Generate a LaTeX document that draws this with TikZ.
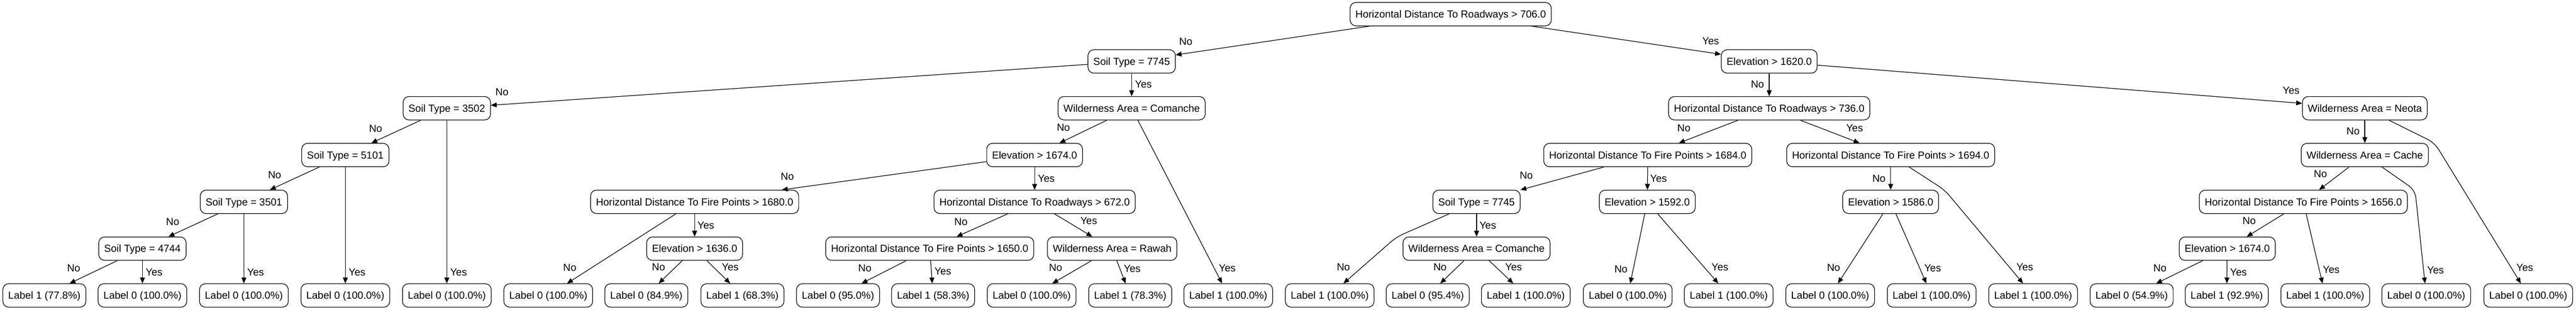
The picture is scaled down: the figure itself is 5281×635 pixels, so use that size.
\documentclass[tikz,border=0pt]{standalone}
\usepackage{fontspec}
\setmainfont{Liberation Sans}
\usetikzlibrary{arrows.meta}
\tikzset{
	split/.style={draw, rounded corners=12pt, line width=1.3pt, minimum height=48pt, inner xsep=11pt, text height=15pt, text depth=0pt},
	leaf/.style={split},
	link/.style={line width=1.3pt, -{Triangle[length=12pt, width=10pt]}},
	bent/.style={link, rounded corners=15pt},
	lbl/.style={inner sep=0pt, text height=15pt, text depth=0pt}
}

\begin{document}
\begin{tikzpicture}[x=1pt, y=-1pt, font=\fontsize{21pt}{25pt}\selectfont]
	\useasboundingbox (0, 0) rectangle (5281, 635);
	% splits
	\node[split] (root) at (2974, 29) {Horizontal Distance To Roadways > 706.0};
	\node[split] (st7745) at (2320, 126) {Soil Type = 7745};
	\node[split] (elev1620) at (3627, 126) {Elevation > 1620.0};
	\node[split] (st3502) at (916, 222) {Soil Type = 3502};
	\node[split] (wacom) at (2320, 222) {Wilderness Area = Comanche};
	\node[split] (hdr736) at (3627, 222) {Horizontal Distance To Roadways > 736.0};
	\node[split] (waneota) at (4848, 222) {Wilderness Area = Neota};
	\node[split] (st5101) at (708, 318) {Soil Type = 5101};
	\node[split] (elev1674) at (2121, 318) {Elevation > 1674.0};
	\node[split] (hdfp1684) at (3378, 318) {Horizontal Distance To Fire Points > 1684.0};
	\node[split] (hdfp1694) at (3876, 318) {Horizontal Distance To Fire Points > 1694.0};
	\node[split] (wacache) at (4848, 318) {Wilderness Area = Cache};
	\node[split] (st3501) at (500, 414) {Soil Type = 3501};
	\node[split] (hdfp1680) at (1424, 414) {Horizontal Distance To Fire Points > 1680.0};
	\node[split] (hdr672) at (2121, 414) {Horizontal Distance To Roadways > 672.0};
	\node[split] (st7745b) at (3027, 414) {Soil Type = 7745};
	\node[split] (elev1592) at (3377, 414) {Elevation > 1592.0};
	\node[split] (elev1586) at (3876, 414) {Elevation > 1586.0};
	\node[split] (hdfp1656) at (4722, 414) {Horizontal Distance To Fire Points > 1656.0};
	\node[split] (st4744) at (292, 510) {Soil Type = 4744};
	\node[split] (elev1636) at (1424, 510) {Elevation > 1636.0};
	\node[split] (hdfp1650) at (1906, 510) {Horizontal Distance To Fire Points > 1650.0};
	\node[split] (warawah) at (2280, 510) {Wilderness Area = Rawah};
	\node[split] (wacomb) at (3027, 510) {Wilderness Area = Comanche};
	\node[split] (elev1674b) at (4566, 510) {Elevation > 1674.0};
	% leaves
	\node[leaf] (l1) at (91, 606) {Label 1 (77.8\%)};
	\node[leaf] (l2) at (292, 606) {Label 0 (100.0\%)};
	\node[leaf] (l3) at (500, 606) {Label 0 (100.0\%)};
	\node[leaf] (l4) at (708, 606) {Label 0 (100.0\%)};
	\node[leaf] (l5) at (916, 606) {Label 0 (100.0\%)};
	\node[leaf] (l6) at (1124, 606) {Label 0 (100.0\%)};
	\node[leaf] (l7) at (1325, 606) {Label 0 (84.9\%)};
	\node[leaf] (l8) at (1522, 606) {Label 1 (68.3\%)};
	\node[leaf] (l9) at (1718, 606) {Label 0 (95.0\%)};
	\node[leaf] (l10) at (1913, 606) {Label 1 (58.3\%)};
	\node[leaf] (l11) at (2115, 606) {Label 0 (100.0\%)};
	\node[leaf] (l12) at (2317, 606) {Label 1 (78.3\%)};
	\node[leaf] (l13) at (2518, 606) {Label 1 (100.0\%)};
	\node[leaf] (l14) at (2726, 606) {Label 1 (100.0\%)};
	\node[leaf] (l15) at (2927, 606) {Label 0 (95.4\%)};
	\node[leaf] (l16) at (3128, 606) {Label 1 (100.0\%)};
	\node[leaf] (l17) at (3337, 606) {Label 0 (100.0\%)};
	\node[leaf] (l18) at (3544, 606) {Label 1 (100.0\%)};
	\node[leaf] (l19) at (3752, 606) {Label 0 (100.0\%)};
	\node[leaf] (l20) at (3960, 606) {Label 1 (100.0\%)};
	\node[leaf] (l21) at (4168, 606) {Label 1 (100.0\%)};
	\node[leaf] (l22) at (4370, 606) {Label 0 (54.9\%)};
	\node[leaf] (l23) at (4565, 606) {Label 1 (92.9\%)};
	\node[leaf] (l24) at (4767, 606) {Label 1 (100.0\%)};
	\node[leaf] (l25) at (4974, 606) {Label 0 (100.0\%)};
	\node[leaf] (l26) at (5183, 606) {Label 0 (100.0\%)};
	% bends
	\coordinate (bend14) at (2863, 486);
	\coordinate (bend21) at (3987, 390);
	\coordinate (bend25) at (4951, 390);
	\coordinate (bend26) at (4991, 293);
	% edges
	\draw[link] (root) -- (st7745);
	\draw[link] (root) -- (elev1620);
	\draw[link] (st7745) -- (st3502);
	\draw[link] (st7745) -- (wacom);
	\draw[link] (st3502) -- (st5101);
	\draw[link] (st3502) -- (l5);
	\draw[link] (st5101) -- (st3501);
	\draw[link] (st5101) -- (l4);
	\draw[link] (st3501) -- (st4744);
	\draw[link] (st3501) -- (l3);
	\draw[link] (st4744) -- (l1);
	\draw[link] (st4744) -- (l2);
	\draw[link] (wacom) -- (elev1674);
	\draw[link] (wacom) -- (l13);
	\draw[link] (elev1674) -- (hdfp1680);
	\draw[link] (elev1674) -- (hdr672);
	\draw[link] (hdfp1680) -- (l6);
	\draw[link] (hdfp1680) -- (elev1636);
	\draw[link] (elev1636) -- (l7);
	\draw[link] (elev1636) -- (l8);
	\draw[link] (hdr672) -- (hdfp1650);
	\draw[link] (hdr672) -- (warawah);
	\draw[link] (hdfp1650) -- (l9);
	\draw[link] (hdfp1650) -- (l10);
	\draw[link] (warawah) -- (l11);
	\draw[link] (warawah) -- (l12);
	\draw[link] (elev1620) -- (hdr736);
	\draw[link] (elev1620) -- (waneota);
	\draw[link] (hdr736) -- (hdfp1684);
	\draw[link] (hdr736) -- (hdfp1694);
	\draw[link] (hdfp1684) -- (st7745b);
	\draw[link] (hdfp1684) -- (elev1592);
	\draw[bent] (st7745b) -- (bend14) -- (l14);
	\draw[link] (st7745b) -- (wacomb);
	\draw[link] (wacomb) -- (l15);
	\draw[link] (wacomb) -- (l16);
	\draw[link] (elev1592) -- (l17);
	\draw[link] (elev1592) -- (l18);
	\draw[link] (hdfp1694) -- (elev1586);
	\draw[bent] (hdfp1694) -- (bend21) -- (l21);
	\draw[link] (elev1586) -- (l19);
	\draw[link] (elev1586) -- (l20);
	\draw[link] (waneota) -- (wacache);
	\draw[bent] (waneota) -- (bend26) -- (l26);
	\draw[link] (wacache) -- (hdfp1656);
	\draw[bent] (wacache) -- (bend25) -- (l25);
	\draw[link] (hdfp1656) -- (elev1674b);
	\draw[link] (hdfp1656) -- (l24);
	\draw[link] (elev1674b) -- (l22);
	\draw[link] (elev1674b) -- (l23);
	% edge labels
	\node[lbl] (n-root) at (2431, 85) {No};
	\node[lbl] (y-root) at (3507, 84) {Yes};
	\node[lbl] (n-st7745) at (1029, 188) {No};
	\node[lbl] (y-st7745) at (2344, 173) {Yes};
	\node[lbl] (n-st3502) at (770, 263) {No};
	\node[lbl] (y-st3502) at (940, 558) {Yes};
	\node[lbl] (n-st5101) at (563, 358) {No};
	\node[lbl] (y-st5101) at (732, 558) {Yes};
	\node[lbl] (n-st3501) at (354, 455) {No};
	\node[lbl] (y-st3501) at (524, 558) {Yes};
	\node[lbl] (n-st4744) at (151, 550) {No};
	\node[lbl] (y-st4744) at (316, 558) {Yes};
	\node[lbl] (n-wacom) at (2180, 261) {No};
	\node[lbl] (y-wacom) at (2516, 550) {Yes};
	\node[lbl] (n-elev1674) at (1614, 362) {No};
	\node[lbl] (y-elev1674) at (2145, 366) {Yes};
	\node[lbl] (n-hdfp1680) at (1168, 549) {No};
	\node[lbl] (y-hdfp1680) at (1447, 462) {Yes};
	\node[lbl] (n-elev1636) at (1350, 548) {No};
	\node[lbl] (y-elev1636) at (1497, 548) {Yes};
	\node[lbl] (n-hdr672) at (1970, 455) {No};
	\node[lbl] (y-hdr672) at (2232, 452) {Yes};
	\node[lbl] (n-hdfp1650) at (1773, 550) {No};
	\node[lbl] (y-hdfp1650) at (1933, 556) {Yes};
	\node[lbl] (n-warawah) at (2164, 549) {No};
	\node[lbl] (y-warawah) at (2321, 551) {Yes};
	\node[lbl] (n-elev1620) at (3603, 173) {No};
	\node[lbl] (y-elev1620) at (4697, 185) {Yes};
	\node[lbl] (n-hdr736) at (3452, 262) {No};
	\node[lbl] (y-hdr736) at (3802, 262) {Yes};
	\node[lbl] (n-hdfp1684) at (3129, 360) {No};
	\node[lbl] (y-hdfp1684) at (3400, 366) {Yes};
	\node[lbl] (n-st7745b) at (2754, 548) {No};
	\node[lbl] (y-st7745b) at (3050, 462) {Yes};
	\node[lbl] (n-wacomb) at (2952, 548) {No};
	\node[lbl] (y-wacomb) at (3103, 548) {Yes};
	\node[lbl] (n-elev1592) at (3323, 552) {No};
	\node[lbl] (y-elev1592) at (3526, 548) {Yes};
	\node[lbl] (n-hdfp1694) at (3852, 366) {No};
	\node[lbl] (y-hdfp1694) at (4151, 548) {Yes};
	\node[lbl] (n-elev1586) at (3759, 549) {No};
	\node[lbl] (y-elev1586) at (3962, 550) {Yes};
	\node[lbl] (n-waneota) at (4824, 269) {No};
	\node[lbl] (y-waneota) at (5176, 549) {Yes};
	\node[lbl] (n-wacache) at (4757, 356) {No};
	\node[lbl] (y-wacache) at (4993, 554) {Yes};
	\node[lbl] (n-hdfp1656) at (4611, 452) {No};
	\node[lbl] (y-hdfp1656) at (4779, 553) {Yes};
	\node[lbl] (n-elev1674b) at (4428, 550) {No};
	\node[lbl] (y-elev1674b) at (4589, 558) {Yes};
\end{tikzpicture}
\end{document}
